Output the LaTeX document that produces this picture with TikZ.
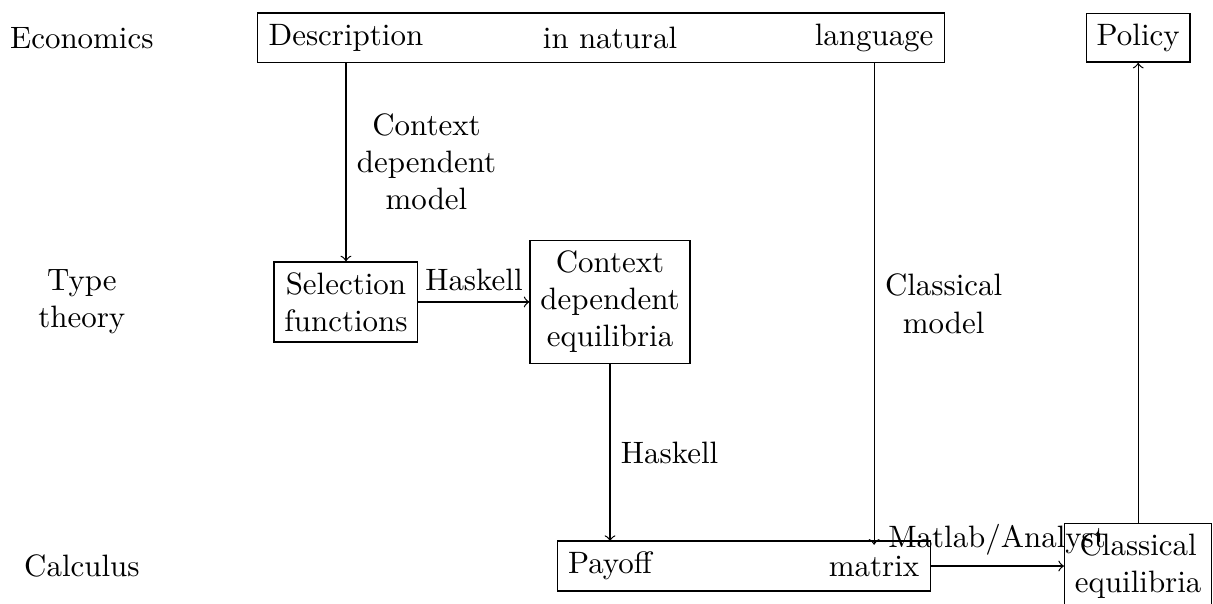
\documentclass[tikz,border=0pt]{standalone}
\usepackage{tikz}
\usetikzlibrary{arrows, positioning, fit}
\tikzstyle{cell} = [align=center]
\tikzstyle{process} = [rectangle, text centered, align=center, draw=black]
\tikzstyle{frame} = [rectangle, draw=black, inner sep=0pt]
\tikzstyle{arrow} = [->]

\begin{document}
\begin{tikzpicture}[node distance=3cm]
\useasboundingbox (0,0) rectangle (13.78,-6.86);

\node (economics) at (0.93,-0.43) {Economics};
\node (typetheory) [cell, below of=economics] {Type\\theory};
\node (calculus) [below of=typetheory] {Calculus};

\node (descr) [right of=economics] {Description};
\node (natural) [right of=descr] {in natural};
\node (lang) [right of=natural] {language};
\node (descrbox) [frame, fit=(descr) (natural) (lang)] {};
\node (policy) [process, right of=lang] {Policy};

\node (selection) [process, right of=typetheory] {Selection\\functions};
\node (ctxeq) [process, right of=selection] {Context\\dependent\\equilibria};

\node (payoff) [right of=calculus, xshift=3cm] {Payoff};
\node (paymatrix) [right of=payoff] {matrix};
\node (payoffbox) [frame, fit=(payoff) (paymatrix)] {};
\node (classical) [process, right of=paymatrix] {Classical\\equilibria};

\draw [arrow] (descr) -- node[anchor=west, align=center] {Context\\dependent\\model} (selection);
\draw [arrow] (selection) -- node[anchor=south] {Haskell} (ctxeq);
\draw [arrow] (ctxeq) -- node[anchor=west] {Haskell} (payoff);
\draw [arrow] (lang) -- node[anchor=west, align=center] {Classical\\model} (paymatrix);
\draw [arrow] (paymatrix) -- node[anchor=south] {Matlab/Analyst} (classical);
\draw [arrow] (classical) -- (policy);

\end{tikzpicture}
\end{document}
